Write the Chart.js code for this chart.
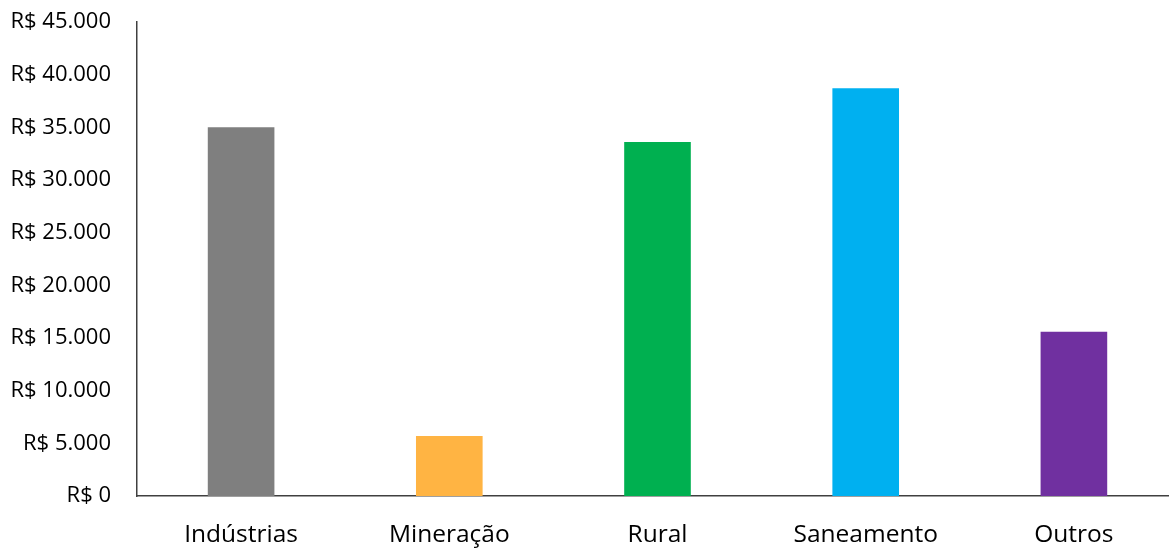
<!DOCTYPE html>
<html>
<head>
<meta charset="utf-8">
<script src="https://cdn.jsdelivr.net/npm/chart.js@4/dist/chart.umd.min.js"></script>
<style>
  html, body { margin: 0; padding: 0; background: #fff; overflow: hidden; }
  /* a área do gráfico passa um pouco da borda direita, como no original */
  #box { width: 1178px; height: 549px; }
</style>
</head>
<body>
<div id="box"><canvas id="grafico"></canvas></div>
<script>
// categorias e valores (R$)
var setores = ['Indústrias', 'Mineração', 'Rural', 'Saneamento', 'Outros'];
var valores = [35000, 5700, 33600, 38700, 15600];
var cores = ['#7f7f7f', '#ffb443', '#00b050', '#00b0f0', '#7030a0'];
var yMax = 45000;
var yPasso = 5000;

function formataReal(v) {
  return 'R$ ' + v.toLocaleString('pt-BR');
}

Chart.defaults.font.family = '"Open Sans", "Noto Sans", sans-serif';
Chart.defaults.color = '#000';

var ctx = document.getElementById('grafico');
new Chart(ctx, {
  type: 'bar',
  data: {
    labels: setores,
    datasets: [{
      data: valores,
      backgroundColor: cores,
      categoryPercentage: 1,
      barPercentage: 0.32
    }]
  },
  options: {
    responsive: true,
    maintainAspectRatio: false,
    animation: false,
    layout: { padding: { top: 22, right: 0, bottom: 0, left: 0 } },
    plugins: {
      legend: { display: false },
      tooltip: { enabled: false }
    },
    scales: {
      x: {
        grid: { display: false, drawTicks: false },
        border: { display: true, color: '#404040', width: 1.5 },
        ticks: { font: { size: 24.5 }, padding: 24, maxRotation: 0 },
        afterFit: function(s) { s.height = 53; s.paddingLeft = 0; s.paddingRight = 0; }
      },
      y: {
        min: 0,
        max: yMax,
        grid: { display: false, drawTicks: false },
        border: { display: true, color: '#404040', width: 1.5 },
        ticks: {
          stepSize: yPasso,
          font: { size: 22 },
          padding: 26,
          callback: function(v) { return formataReal(v); }
        },
        afterFit: function(s) { s.width = 137; s.paddingTop = 0; s.paddingBottom = 0; }
      }
    }
  }
});
</script>
</body>
</html>
